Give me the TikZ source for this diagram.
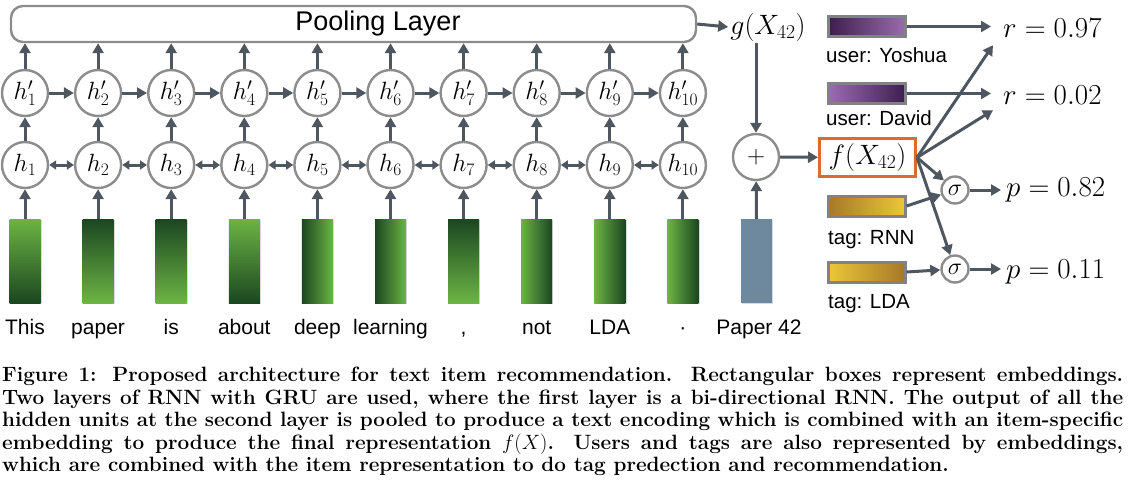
\RequirePackage{fix-cm}
\documentclass[tikz,border=0pt]{standalone}
\usepackage{amsmath,amssymb}
\usepackage{fontspec}
\setsansfont{Liberation Sans}
\usepackage{tikz}
\usetikzlibrary{arrows.meta,shadows}
\definecolor{arrc}{RGB}{78,86,96}
\definecolor{cgray}{RGB}{140,140,140}
\definecolor{bgray}{RGB}{128,130,134}
\definecolor{gl}{RGB}{108,180,68}
\definecolor{gd}{RGB}{27,70,33}
\definecolor{pd}{RGB}{60,30,78}
\definecolor{pl}{RGB}{156,108,176}
\definecolor{yd}{RGB}{166,120,40}
\definecolor{yl}{RGB}{234,200,56}
\definecolor{paperc}{RGB}{110,136,158}
\definecolor{fcol}{RGB}{224,106,40}
\tikzset{
	unit/.style={circle,draw=cgray,line width=2.4pt,fill=white,minimum size=46pt,inner sep=0pt,font=\fontsize{25}{25}\selectfont},
	arr/.style={draw=arrc,line width=3pt,-{Triangle[length=10pt,width=11pt]}},
	barr/.style={draw=arrc,line width=3pt,{Triangle[length=7pt,width=9pt]}-{Triangle[length=7pt,width=9pt]}},
	emb/.style={minimum width=31pt,minimum height=84pt,inner sep=0pt,drop shadow={shadow xshift=1.2pt,shadow yshift=-1.2pt,opacity=.3}},
	gv1/.style={top color=gl,bottom color=gd},
	gv2/.style={top color=gd,bottom color=gl},
	gh1/.style={left color=gd,right color=gl},
	gh2/.style={left color=gl,right color=gd},
	word/.style={font=\sffamily\fontsize{21}{21}\selectfont,anchor=base},
	vec/.style={draw=bgray,line width=3pt,minimum width=77pt,minimum height=20pt,inner sep=0pt},
	lab/.style={font=\sffamily\fontsize{20.5}{20.5}\selectfont,anchor=base west,inner sep=0pt},
	res/.style={font=\fontsize{29}{29}\selectfont,anchor=base west,inner sep=2pt}
}
\begin{document}
\begin{tikzpicture}[x=1pt,y=1pt]
	\useasboundingbox(0,0)rectangle(1128,-485);
	\node[draw=cgray,line width=2.4pt,rounded corners=12pt,minimum width=685pt,minimum height=36pt](pool)at(353.5,-24){};
	\node[font=\sffamily\fontsize{27}{27}\selectfont](pooltxt)at(378,-24){Pooling Layer};
	\foreach \i/\w/\s in {1/This/gv1,2/paper/gv2,3/is/gv2,4/about/gv1,5/deep/gh1,6/learning/gh1,7/{,}/gv2,8/not/gh2,9/LDA/gh2,10/·/gh2}{
		\node[emb,\s](e\i)at({73.1*\i-48.1},-261){};
		\node[word](w\i)at({73.1*\i-48.1},-334){\w};
		\node[unit](h\i)at({73.1*\i-48.1},-165){$h_{\i}$};
		\node[unit](hp\i)at({73.1*\i-48.1},-93){$h'_{\i}$};
		\draw[arr](e\i.north)--(h\i);
		\draw[arr](h\i)--(hp\i);
		\draw[arr](hp\i.north)--(hp\i.north|-pool.south);
	}
	\foreach \i [evaluate=\i as \j using int(\i+1)] in {1,...,9}{
		\draw[barr](h\i)--(h\j);
		\draw[arr](hp\i)--(hp\j);
	}
	\node[font=\fontsize{28}{28}\selectfont,inner sep=2pt](g)at(768,-27){$g(X_{42})$};
	\draw[arr](pool.east)--(g.west);
	\node[unit](plus)at(756,-157){$+$};
	\draw[arr](g.south-|plus)--(plus);
	\node[emb,fill=paperc](e11)at(756.5,-261){};
	\node[word](w11)at(759,-334){Paper 42};
	\draw[arr](e11.north)--(plus);
	\node[draw=fcol,line width=3pt,minimum width=96pt,minimum height=38pt,inner sep=2pt,font=\fontsize{28}{28}\selectfont](f)at(867.5,-157.5){$f(X_{42})$};
	\draw[arr](plus)--(f);
	\node[vec,left color=pd,right color=pl](u1)at(867,-26.5){};
	\node[lab](lu1)at(826,-62){user: Yoshua};
	\node[vec,left color=pl,right color=pd](u2)at(867,-93.5){};
	\node[lab](lu2)at(826,-125){user: David};
	\node[vec,left color=yd,right color=yl](t1)at(866.5,-206){};
	\node[lab](lt1)at(828,-244){tag: RNN};
	\node[vec,left color=yl,right color=yd](t2)at(866.5,-272){};
	\node[lab](lt2)at(828,-308){tag: LDA};
	\node[res](r1)at(1001,-37){$r=0.97$};
	\node[res](r2)at(1001,-104){$r=0.02$};
	\node[res](p1)at(1004,-196){$p=0.82$};
	\node[res](p2)at(1004,-278){$p=0.11$};
	\node[unit,minimum size=27pt,font=\fontsize{24}{24}\selectfont](s1)at(955,-190){$\sigma$};
	\node[unit,minimum size=27pt,font=\fontsize{24}{24}\selectfont](s2)at(955,-269){$\sigma$};
	\draw[arr,shorten >=10pt](u1.east)--(u1.east-|r1.west);
	\draw[arr,shorten >=10pt](u2.east)--(u2.east-|r2.west);
	\draw[arr](f.east)--([shift={(-8,-6)}]r1.south west);
	\draw[arr](f.east)--([shift={(-8,-4)}]r2.south west);
	\draw[arr](f.east)--(s1);
	\draw[arr](f.east)--(s2);
	\draw[arr](t1.east)--(s1);
	\draw[arr](t2.east)--(s2);
	\draw[arr,shorten >=3pt](s1)--(s1-|p1.west);
	\draw[arr,shorten >=3pt](s2)--(s2-|p2.west);
	\node[anchor=north west,text width=1121pt,align=justify,inner sep=0pt,font=\bfseries\fontsize{20.7}{22.5}\selectfont](cap)at(2,-367){Figure 1: Proposed architecture for text item recommendation. Rectangular boxes represent embeddings.\linebreak Two layers of RNN with GRU are used, where the first layer is a bi-directional RNN. The output of all the\linebreak hidden units at the second layer is pooled to produce a text encoding which is combined with an item-specific\linebreak embedding to produce the final representation $f(X)$. Users and tags are also represented by embeddings,\linebreak which are combined with the item representation to do tag predection and recommendation.};
\end{tikzpicture}
\end{document}
